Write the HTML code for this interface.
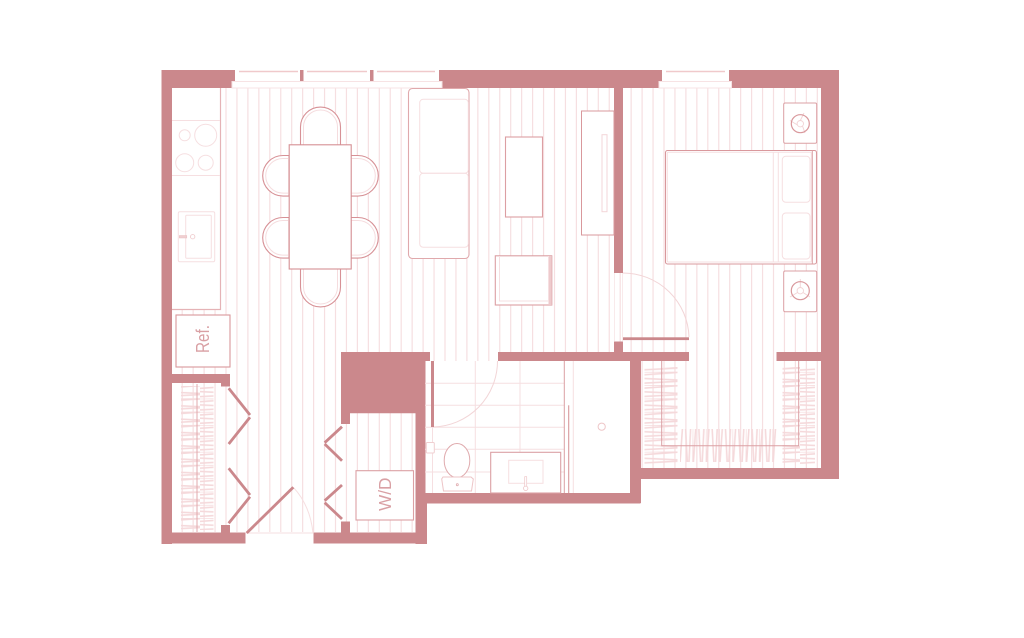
<!DOCTYPE html>
<html>
<head>
<meta charset="utf-8">
<style>
html,body{margin:0;padding:0;background:#fff;}
svg{display:block;}
text{font-family:"Liberation Sans",sans-serif;fill:#d9a0a4;}
</style>
</head>
<body>
<svg xmlns="http://www.w3.org/2000/svg" width="1024" height="638" viewBox="0 0 1024 638">
<defs>
<clipPath id="floor"><path d="M172 88H821V468H623V361H430V352H341V532H172Z"/><path d="M341 413H416V532H341Z"/></clipPath>
<pattern id="hv" patternUnits="userSpaceOnUse" x="0" y="386" width="40" height="13.3">
<path d="M0 2.4L40 -0.4M0 5.6L40 7.4M0 10.6L40 8.6M0 13.5L40 13" stroke="#f5d9db" stroke-width="1.6" fill="none"/>
</pattern>
<pattern id="hh" patternUnits="userSpaceOnUse" x="680" y="429" width="13.3" height="40">
<path d="M2.4 0L-0.4 40M5.6 0L7.6 40M10.6 0L8.6 40M13.5 0L13 40" stroke="#f5d9db" stroke-width="1.6" fill="none"/>
</pattern>
</defs>

<!-- floor lines -->
<path clip-path="url(#floor)" stroke="#f6dfe1" stroke-width="1.2" fill="none" d="M182.2 88V532M193.15 88V532M204.1 88V532M215.05 88V532M226 88V532M236.95 88V532M247.9 88V532M258.85 88V532M269.8 88V532M280.75 88V532M291.7 88V532M302.65 88V532M313.6 88V532M324.55 88V532M335.5 88V532M346.45 88V532M357.4 88V532M368.35 88V532M379.3 88V532M390.25 88V532M401.2 88V532M412.15 88V532M423.1 88V532M434.05 88V532M445 88V532M455.95 88V532M466.9 88V532M477.85 88V532M488.8 88V532M499.75 88V532M510.7 88V532M521.65 88V532M532.6 88V532M543.55 88V532M554.5 88V532M565.45 88V532M576.4 88V532M587.35 88V532M598.3 88V532M609.25 88V532M620.2 88V532M631.15 88V532M642.1 88V532M653.05 88V532M664 88V532M674.95 88V532M685.9 88V532M696.85 88V532M707.8 88V532M718.75 88V532M729.7 88V532M740.65 88V532M751.6 88V532M762.55 88V532M773.5 88V532M784.45 88V532M795.4 88V532M806.35 88V532M817.3 88V532"/>

<!-- hangers -->
<rect x="181" y="386" width="32.5" height="144" fill="url(#hv)"/>
<rect x="644.5" y="367" width="33" height="97" fill="url(#hv)"/>
<rect x="782.5" y="367" width="32.5" height="97" fill="url(#hv)"/>
<rect x="680" y="429" width="97" height="33" fill="url(#hh)"/>
<path d="M197 384V532" stroke="#e0a9ac" stroke-width="1" fill="none"/>
<path d="M661.7 361V445.7H798.7V361" stroke="#dba0a4" stroke-width="1" fill="none"/>

<!-- walls -->
<g fill="#cb888c">
<rect x="161.5" y="70" width="73.5" height="18"/>
<rect x="161.5" y="70" width="10.5" height="474"/>
<rect x="439" y="70" width="223" height="18"/>
<rect x="729" y="70" width="110" height="18"/>
<rect x="821" y="70" width="18" height="409"/>
<rect x="630" y="468" width="209" height="11"/>
<rect x="630" y="361" width="11" height="142"/>
<rect x="614" y="88" width="9" height="185"/>
<rect x="614" y="341.5" width="9" height="11"/>
<rect x="498" y="352" width="191" height="9"/>
<rect x="776.5" y="352" width="45" height="9"/>
<path d="M341 352H430V361H425.5V503H641V493H425.5V493H415.5V413.3H350V424H341Z"/>
<rect x="415.5" y="493" width="11.5" height="51"/>
<rect x="415.5" y="493" width="225" height="10.5"/>
<rect x="161.5" y="532.5" width="84" height="11"/>
<rect x="313.5" y="532.5" width="113.5" height="11"/>
<rect x="221" y="525" width="9" height="8"/>
<rect x="341" y="521.5" width="9" height="11"/>
<rect x="172" y="374" width="58" height="9"/>
<rect x="221" y="374" width="9" height="12.5"/>
<rect x="300" y="70" width="3.5" height="11.5"/>
<rect x="370" y="70" width="3.5" height="11.5"/>
</g>

<!-- windows -->
<path d="M232 81.5H442V88H232Z" fill="#fff" stroke="#f7e3e4" stroke-width="1"/>
<path d="M659 81.5H731.5V88H659Z" fill="#fff" stroke="#f7e3e4" stroke-width="1"/>
<g stroke="#f0c9cb" stroke-width="1.5" fill="none">
<path d="M239 71.5H298M307 71.5H367M377 71.5H435M666 71.5H725"/>
</g>

<!-- kitchen -->
<rect x="172" y="88" width="48.5" height="221.5" fill="#fff"/>
<path d="M220.5 88V309.5H172" stroke="#e5b3b6" stroke-width="1.2" fill="none"/>
<g stroke="#f6dfe1" stroke-width="1" fill="none">
<path d="M172 120.5H220M172 175.5H220"/>
<circle cx="184.7" cy="135.3" r="5.5"/>
<circle cx="205.7" cy="135.3" r="11"/>
<circle cx="184.7" cy="162.7" r="9"/>
<circle cx="205.7" cy="162.7" r="7.5"/>
<rect x="178.3" y="211.7" width="36.4" height="50" rx="1.5"/>
<rect x="185.7" y="215.3" width="25.6" height="43" rx="1"/>
</g>
<rect x="179.3" y="235.5" width="7.5" height="2.5" fill="#f0cfd1" stroke="#e9bfc1" stroke-width=".5"/>
<circle cx="192.7" cy="236.7" r="2.2" fill="none" stroke="#eec6c8" stroke-width=".8"/>

<!-- ref -->
<rect x="176" y="315" width="54" height="52" fill="#fff" stroke="#d9989c" stroke-width="1.1"/>
<text transform="translate(209 353) rotate(-90)" font-size="18" textLength="28" lengthAdjust="spacingAndGlyphs">Ref.</text>

<!-- dining -->
<g fill="#fff" stroke="#d79196" stroke-width="1.1">
<path d="M300.5 145V127a20 20 0 0 1 40 0V145Z"/>
<path d="M300.5 269V287a20 20 0 0 0 40 0V269Z"/>
<path d="M289 155.5H283a20.3 20.3 0 0 0 0 40.6H289Z"/>
<path d="M289 217.5H283a20.3 20.3 0 0 0 0 40.6H289Z"/>
<path d="M351 155.5H358a20.3 20.3 0 0 1 0 40.6H351Z"/>
<path d="M351 217.5H358a20.3 20.3 0 0 1 0 40.6H351Z"/>
</g>
<g fill="none" stroke="#f5dcde" stroke-width="1">
<path d="M303.5 145V127a17 17 0 0 1 34 0V145"/>
<path d="M303.5 269V287a17 17 0 0 0 34 0V269"/>
<path d="M289 158.5H283a17.3 17.3 0 0 0 0 34.6H289"/>
<path d="M289 220.5H283a17.3 17.3 0 0 0 0 34.6H289"/>
<path d="M351 158.5H358a17.3 17.3 0 0 1 0 34.6H351"/>
<path d="M351 220.5H358a17.3 17.3 0 0 1 0 34.6H351"/>
</g>
<rect x="289.2" y="144.8" width="62" height="124.2" fill="#fff" stroke="#d58f94" stroke-width="1.1"/>

<!-- sofa -->
<rect x="408.5" y="88.5" width="60.5" height="170" rx="4" fill="#fff" stroke="#e0a9ac" stroke-width="1.1"/>
<g fill="none" stroke="#f6dfe1" stroke-width="1">
<rect x="419.7" y="99.3" width="48.6" height="74" rx="3.5"/>
<rect x="419.7" y="173.3" width="48.6" height="74" rx="3.5"/>
</g>

<!-- coffee table, console, ottoman -->
<rect x="505.5" y="137" width="37" height="80" fill="#fff" stroke="#dc9fa3" stroke-width="1.1"/>
<rect x="581.5" y="111" width="32.5" height="124" fill="#fff" stroke="#d9989c" stroke-width="1"/>
<rect x="602" y="134.7" width="5" height="77" fill="#fff" stroke="#f3d6d8" stroke-width="1"/>
<rect x="495.3" y="255.8" width="56.5" height="49.2" fill="#fff" stroke="#dc9fa3" stroke-width="1.1"/>
<rect x="548.5" y="256" width="3.2" height="49" fill="#eecacc"/>
<path d="M499.5 256V301H548.5V256" fill="none" stroke="#f6dfe1" stroke-width="1"/>

<!-- bedroom door -->
<path d="M623 273A66 66 0 0 1 689 337" fill="none" stroke="#f2d5d7" stroke-width="1"/>
<rect x="623" y="337.3" width="66" height="2.8" fill="#cb888c"/>
<path d="M614.5 273V341M622.5 273V341" stroke="#f9eaeb" stroke-width="1" fill="none"/>

<!-- bed -->
<rect x="665.5" y="150.5" width="151" height="113.5" rx="2" fill="#fff" stroke="#d9989c" stroke-width="1.1"/>
<rect x="667.3" y="152.3" width="144" height="109.7" rx="1" fill="none" stroke="#f6dfe1" stroke-width="1"/>
<path d="M773.3 152V262M778.3 152V262" fill="none" stroke="#f6dfe1" stroke-width="1"/>
<path d="M812.3 150.5V264" fill="none" stroke="#dba0a4" stroke-width="1"/>
<rect x="782.3" y="156.3" width="27.7" height="46" rx="3.5" fill="none" stroke="#f6dfe1" stroke-width="1"/>
<rect x="782.3" y="213" width="27.7" height="46" rx="3.5" fill="none" stroke="#f6dfe1" stroke-width="1"/>

<!-- nightstands -->
<g>
<rect x="783.7" y="103" width="33" height="40.3" rx="1.5" fill="#fff" stroke="#dba0a4" stroke-width="1"/>
<rect x="783.7" y="271" width="33" height="40.7" rx="1.5" fill="#fff" stroke="#dba0a4" stroke-width="1"/>
<g fill="none" stroke="#f2d3d5" stroke-width=".9">
<circle cx="800.3" cy="123.7" r="3.2"/>
<path d="M800.3 120.5L804 113M797.5 125L790 120.5M802.5 126L805 133"/>
<circle cx="800.3" cy="290.7" r="3.2"/>
<path d="M800.3 287.5V279M797.5 292.5L790 297M803 292.5L810 297"/>
</g>
<circle cx="800.3" cy="123.7" r="9" fill="none" stroke="#d9989c" stroke-width="1.2"/>
<circle cx="800.3" cy="290.7" r="9" fill="none" stroke="#d9989c" stroke-width="1.2"/>
</g>

<!-- bathroom -->
<g fill="none">
<path d="M425 383.3H564M425 405.3H564M425 427.3H564M425 449.3H564M425 472H564" stroke="#f6dfe1" stroke-width="1"/>
<path d="M475.3 361V493M520 361V493M432.5 427V493" stroke="#f6dfe1" stroke-width="1"/>
<path d="M573.3 361V493" stroke="#f6dfe1" stroke-width="1"/>
<path d="M564.3 361V493" stroke="#dba0a4" stroke-width="1"/>
<path d="M568.7 405.3V493" stroke="#d9989c" stroke-width="1.1"/>
<circle cx="601.7" cy="426.7" r="3.6" stroke="#eec6c8" stroke-width="1"/>
<path d="M497.5 361A66 66 0 0 1 433 427" stroke="#f2d5d7" stroke-width="1"/>
</g>
<rect x="431" y="361" width="3" height="66" fill="#cb888c"/>
<rect x="490.7" y="452.3" width="70" height="40.7" fill="#fff" stroke="#dba0a4" stroke-width="1.1"/>
<rect x="508.7" y="460.3" width="34.3" height="23" fill="none" stroke="#f6dfe1" stroke-width="1"/>
<rect x="524.7" y="476.7" width="2" height="10" fill="#fff" stroke="#eec6c8" stroke-width=".7"/>
<circle cx="525.7" cy="488.3" r="2.2" fill="#fff" stroke="#eec6c8" stroke-width=".8"/>
<rect x="426.3" y="442.5" width="8" height="10.5" rx="1" fill="#fff" stroke="#f0cfd1" stroke-width="1"/>
<!-- toilet -->
<ellipse cx="457" cy="460.5" rx="12.8" ry="17" fill="#fff" stroke="#dfaaad" stroke-width="1"/>
<path d="M443 477C450 477 464 477 471 477L473.3 479L471.5 491H443.5L441.7 479Z" fill="#fff" stroke="#edc5c7" stroke-width="1"/>
<circle cx="457.3" cy="484.7" r="1" fill="none" stroke="#dfaaad" stroke-width=".8"/>

<!-- entry door -->
<path d="M293.3 487.3Q310 505 313 533" fill="none" stroke="#f6dfe1" stroke-width="1"/>
<path d="M246 533H313" stroke="#f6dfe1" stroke-width="1" fill="none"/>
<g stroke="#cb888c" stroke-width="2.8" fill="none">
<path d="M246.7 533L293.3 487.3"/>
<path d="M228.7 388.3L250 415M250 417.3L228.7 444M228.7 468.3L250 495M250 496.7L228.7 523.3"/>
<path d="M342 426.7L324.7 442.7M324.7 444L342 460.7M342 485L324.7 500.7M324.7 502.7L342 519"/>
</g>

<!-- W/D -->
<rect x="356" y="470.7" width="57.5" height="49.3" fill="#fff" stroke="#dba0a4" stroke-width="1.1"/>
<text transform="translate(391 511) rotate(-90)" font-size="17.5" textLength="33.5" lengthAdjust="spacingAndGlyphs">W/D</text>
</svg>
</body>
</html>
